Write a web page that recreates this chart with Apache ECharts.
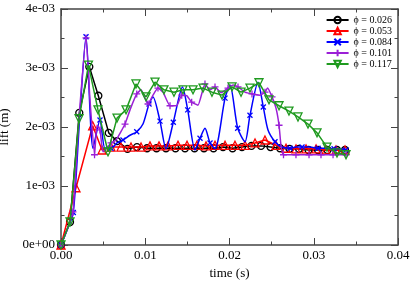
<!DOCTYPE html>
<html><head><meta charset="utf-8">
<script src="https://cdn.jsdelivr.net/npm/echarts@6/dist/echarts.min.js"></script>
<style>html,body{margin:0;padding:0;background:#fff}#c{width:415px;height:282px}</style>
</head><body><div id="c"></div>
<script>
// ---- data (lift values in units of 1e-3 m) ----
const seriesNames = ['\u03d5 = 0.026', '\u03d5 = 0.053', '\u03d5 = 0.084', '\u03d5 = 0.101', '\u03d5 = 0.117'];
const xTickValues = [0, 0.01, 0.02, 0.03, 0.04];
const yTickValues = [0, 0.001, 0.002, 0.003, 0.004];
const liftUnit = 1e-3;

const t026 = [0, 0.00107, 0.00217, 0.00336, 0.00443, 0.00567, 0.00665, 0.00789, 0.00902, 0.01021, 0.01134, 0.01246, 0.01359, 0.01472, 0.01585, 0.01697, 0.01810, 0.01923, 0.02036, 0.02148, 0.02261, 0.02374, 0.02487, 0.02600, 0.02712, 0.02825, 0.02938, 0.03051, 0.03163, 0.03276, 0.03371];
const v026 = [0, 0.39, 2.24, 3.02, 2.53, 1.90, 1.76, 1.63, 1.66, 1.64, 1.64, 1.64, 1.64, 1.64, 1.64, 1.64, 1.64, 1.66, 1.64, 1.66, 1.68, 1.68, 1.66, 1.64, 1.63, 1.63, 1.61, 1.61, 1.61, 1.61, 1.61];

const t053 = [0, 0.00178, 0.00376, 0.00487, 0.00594, 0.00712, 0.00831, 0.00950, 0.01056, 0.01163, 0.01270, 0.01389, 0.01496, 0.01614, 0.01721, 0.01828, 0.01947, 0.02065, 0.02184, 0.02303, 0.02421, 0.02552, 0.02671, 0.02789, 0.02908, 0.03027, 0.03146, 0.03264, 0.03371];
const v053 = [0, 0.97, 2.02, 1.61, 1.66, 1.66, 1.66, 1.66, 1.68, 1.68, 1.68, 1.69, 1.69, 1.69, 1.68, 1.69, 1.69, 1.69, 1.69, 1.73, 1.78, 1.69, 1.64, 1.63, 1.63, 1.63, 1.61, 1.61, 1.61];

const t084 = [0, 0.00071, 0.00146, 0.00220, 0.00297, 0.00380, 0.00463, 0.00522, 0.00594, 0.00665, 0.00736, 0.00819, 0.00899, 0.00973, 0.01045, 0.01092, 0.01175, 0.01246, 0.01333, 0.01442, 0.01504, 0.01591, 0.01650, 0.01709, 0.01769, 0.01828, 0.01947, 0.02006, 0.02097, 0.02184, 0.02243, 0.02338, 0.02401, 0.02457, 0.02540, 0.02620, 0.02718, 0.02789, 0.02861, 0.02956, 0.03051, 0.03146, 0.03241, 0.03312, 0.03383];
const v084 = [0, 0.25, 0.55, 2.12, 3.53, 1.64, 2.12, 1.64, 1.64, 1.73, 1.78, 1.86, 1.92, 2.05, 2.39, 2.51, 2.10, 1.63, 2.08, 2.68, 2.29, 1.61, 1.81, 1.98, 1.73, 1.63, 2.49, 2.71, 1.98, 1.75, 2.20, 2.76, 2.34, 1.95, 1.75, 1.66, 1.64, 1.66, 1.66, 1.66, 1.64, 1.64, 1.63, 1.63, 1.61];

const t101 = [0, 0.00071, 0.00142, 0.00214, 0.00297, 0.00344, 0.00398, 0.00427, 0.00463, 0.00499, 0.00594, 0.00653, 0.00760, 0.00819, 0.00899, 0.00950, 0.01033, 0.01092, 0.01151, 0.01211, 0.01294, 0.01373, 0.01433, 0.01492, 0.01551, 0.01626, 0.01709, 0.01769, 0.01828, 0.01899, 0.01982, 0.02042, 0.02101, 0.02184, 0.02267, 0.02362, 0.02421, 0.02451, 0.02505, 0.02552, 0.02588, 0.02611, 0.02641, 0.02718, 0.02789, 0.02861, 0.02944, 0.03015, 0.03086, 0.03157, 0.03229, 0.03300, 0.03383];
const v101 = [0, 0.25, 0.56, 2.15, 3.51, 2.46, 1.53, 2.03, 1.95, 1.58, 1.73, 1.78, 2.05, 2.29, 2.56, 2.63, 2.39, 2.54, 2.66, 2.59, 2.36, 2.36, 2.54, 2.53, 2.42, 2.37, 2.73, 2.63, 2.68, 2.58, 2.66, 2.71, 2.68, 2.59, 2.56, 2.54, 2.59, 2.66, 2.51, 2.32, 2.03, 1.69, 1.53, 1.53, 1.53, 1.53, 1.53, 1.53, 1.53, 1.53, 1.53, 1.53, 1.53];

const t117 = [0, 0.00107, 0.00214, 0.00326, 0.00439, 0.00558, 0.00665, 0.00772, 0.00890, 0.01009, 0.01116, 0.01222, 0.01341, 0.01448, 0.01567, 0.01686, 0.01792, 0.01911, 0.02030, 0.02137, 0.02243, 0.02350, 0.02469, 0.02588, 0.02706, 0.02813, 0.02932, 0.03039, 0.03157, 0.03276, 0.03383];
const v117 = [0, 0.39, 2.14, 3.05, 2.29, 1.58, 2.15, 2.29, 2.73, 2.51, 2.76, 2.63, 2.59, 2.63, 2.63, 2.66, 2.59, 2.54, 2.68, 2.59, 2.66, 2.75, 2.46, 2.36, 2.27, 2.17, 2.05, 1.90, 1.66, 1.56, 1.53];

// ---- styling ----
const serif = 'Liberation Serif';
const axisGray = '#444';
const styles = [
  {color: '#000000', symbol: 'circle', size: 7, step: 1, smooth: false},
  {color: '#ff0000', symbol: 'triangle', size: 8, step: 1, smooth: false},
  {color: '#0000ff', symbol: 'path://M0,0L10,10M10,0L0,10', size: 5, step: 2, smooth: 0.25},
  {color: '#9b1fd6', symbol: 'path://M5,0L5,10M0,5L10,5', size: 7, step: 2, smooth: 0.15},
  {color: '#1f9a1f', symbol: 'path://M0,0L10,0L5,9Z', size: 8, step: 1, smooth: false}
];
const allT = [t026, t053, t084, t101, t117];
const allV = [v026, v053, v084, v101, v117];

function sci(v) {
  const s = Number(v).toExponential(0);
  const parts = s.split('e');
  const e = parseInt(parts[1], 10);
  const ea = Math.abs(e);
  return parts[0] + 'e' + (e < 0 ? '-' : '+') + (ea < 10 ? '0' + ea : '' + ea);
}

const series = seriesNames.map((name, i) => {
  const st = styles[i];
  const data = allT[i].map((t, k) => {
    const item = {value: [t, allV[i][k] * liftUnit]};
    if (k % st.step !== 0) item.symbol = 'none';
    return item;
  });
  return {
    name: name,
    type: 'line',
    data: data,
    symbol: st.symbol,
    symbolSize: st.size,
    showAllSymbol: true,
    smooth: st.smooth,
    z: 2 + i,
    lineStyle: {color: st.color, width: 1.5},
    itemStyle: {color: 'rgba(255,255,255,0)', borderColor: st.color, borderWidth: 1.3},
    emphasis: {disabled: true}
  };
});

const baseTick = {show: true, inside: true, length: 7, lineStyle: {color: axisGray, width: 1}};
const minorTick = {show: true, splitNumber: 2, length: 3.5, lineStyle: {color: axisGray, width: 1}};
const axisLine = {show: true, onZero: false, lineStyle: {color: axisGray, width: 1.5}};

const chart = echarts.init(document.getElementById('c'), null, {renderer: 'canvas'});
chart.setOption({
  animation: false,
  backgroundColor: '#fff',
  grid: {left: 61, right: 17, top: 9, bottom: 37, containLabel: false, outerBoundsMode: 'none'},
  legend: {
    orient: 'vertical', right: 18, top: 10,
    itemWidth: 22, itemHeight: 8, itemGap: 1,
    data: seriesNames,
    textStyle: {fontFamily: serif, fontSize: 10, color: '#000'},
    selectedMode: false
  },
  xAxis: [
    {type: 'value', position: 'bottom', min: xTickValues[0], max: xTickValues[xTickValues.length - 1], interval: xTickValues[1] - xTickValues[0],
     name: 'time (s)', nameLocation: 'middle', nameGap: 22,
     nameTextStyle: {fontFamily: serif, fontSize: 13, color: '#000'},
     axisLine: axisLine, axisTick: baseTick, minorTick: minorTick, splitLine: {show: false},
     axisLabel: {fontFamily: serif, fontSize: 13, color: '#000', margin: 4, formatter: v => v.toFixed(2)}},
    {type: 'value', position: 'top', min: xTickValues[0], max: xTickValues[xTickValues.length - 1], interval: xTickValues[1] - xTickValues[0],
     axisLine: axisLine, axisTick: baseTick, minorTick: minorTick, splitLine: {show: false}, axisLabel: {show: false}}
  ],
  yAxis: [
    {type: 'value', position: 'left', min: yTickValues[0], max: yTickValues[yTickValues.length - 1], interval: yTickValues[1] - yTickValues[0],
     name: 'lift (m)', nameLocation: 'middle', nameGap: 43,
     nameTextStyle: {fontFamily: serif, fontSize: 13, color: '#000'},
     axisLine: axisLine, axisTick: baseTick, minorTick: minorTick, splitLine: {show: false},
     axisLabel: {fontFamily: serif, fontSize: 13, color: '#000', margin: 6, formatter: v => sci(v)}},
    {type: 'value', position: 'right', min: yTickValues[0], max: yTickValues[yTickValues.length - 1], interval: yTickValues[1] - yTickValues[0],
     axisLine: axisLine, axisTick: baseTick, minorTick: minorTick, splitLine: {show: false}, axisLabel: {show: false}}
  ],
  series: series
});
</script>
</body></html>
